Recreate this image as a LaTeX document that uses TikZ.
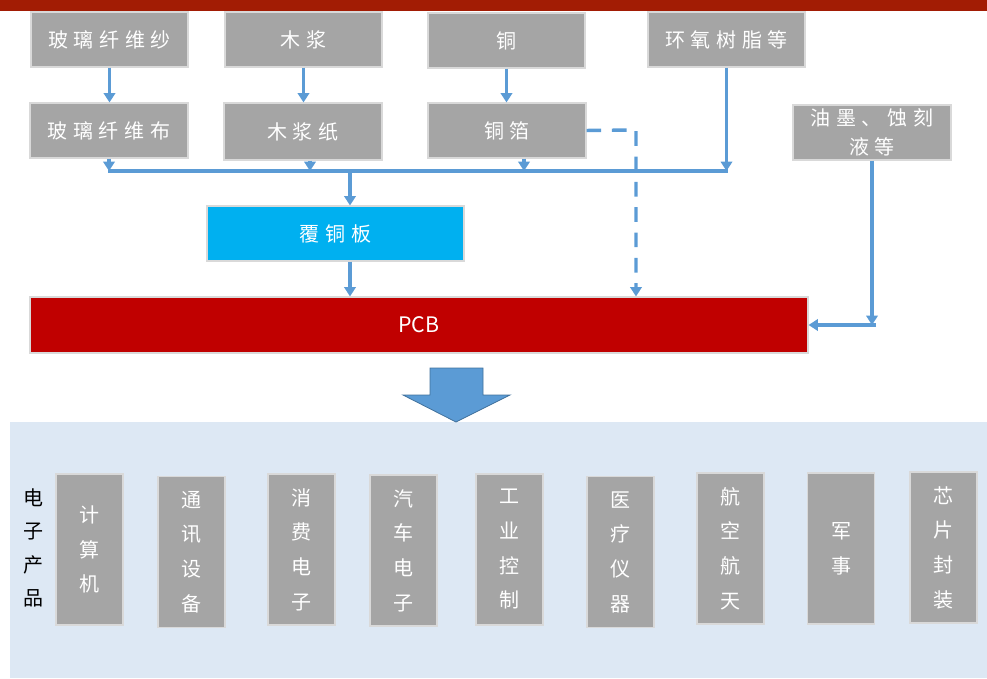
\documentclass[tikz,border=0pt]{standalone}
\usepackage{fontspec}
\setmainfont{Noto Sans CJK SC}
\newfontfamily\cjk[LetterSpace=28]{Noto Sans CJK SC}
\newfontfamily\cjkv{Noto Sans CJK SC}
\usetikzlibrary{arrows.meta,calc}
\definecolor{barred}{HTML}{A21C04}
\definecolor{boxgray}{HTML}{A5A5A5}
\definecolor{boxedge}{HTML}{D9D9D9}
\definecolor{cyanbox}{HTML}{00B0F0}
\definecolor{pcbred}{HTML}{C00000}
\definecolor{arrblue}{HTML}{5B9BD5}
\definecolor{arredge}{HTML}{41719C}
\definecolor{panel}{HTML}{DDE8F4}
\tikzset{
  graybox/.style={draw=boxedge,line width=0.8pt,fill=boxgray,text=white,inner sep=0pt,
    font=\cjk\fontsize{15}{22}\selectfont,align=center},
  hbox/.style={graybox,minimum width=118.5pt,minimum height=41.25pt},
  vbox/.style={graybox,minimum width=50.25pt,minimum height=113.25pt,
    font=\cjkv\fontsize{15}{26}\selectfont},
  link/.style={arrblue,line width=2.6pt},
  arr/.style={link,-{Triangle[width=8.5pt,length=7pt]}},
}
\begin{document}
\begin{tikzpicture}[x=0.75pt,y=-0.75pt]
\useasboundingbox (0,0) rectangle (987,678);
% top bar
\fill[barred] (0,0) rectangle (987,11);
% bottom panel
\fill[panel] (10,422) rectangle (987,678);

% top row
\node[hbox,minimum width=117.75pt] (gys) at (109.5,39.5) {玻璃纤维纱};
\node[hbox,minimum width=117.75pt] (mj) at (303.5,39.5) {木浆};
\node[hbox,minimum width=117.75pt] (tong) at (506.5,40.5) {铜};
\node[hbox,minimum width=117.75pt] (hy) at (726.5,39.5) {环氧树脂等};
% second row
\node[hbox] (gyb) at (109,130.5) {玻璃纤维布};
\node[hbox,minimum height=42.75pt] (mjz) at (303,131.5) {木浆纸};
\node[hbox] (tb) at (507,130.5) {铜箔};
\node[hbox,font=\cjk\fontsize{15}{22}\selectfont] (ym) at (872,132.5) {油墨、蚀刻\\液等};
% CCL and PCB
\node[graybox,fill=cyanbox,minimum width=192.75pt,minimum height=41.25pt] (ftb) at (335.5,233.5) {覆铜板};
\node[graybox,fill=pcbred,minimum width=583.5pt,minimum height=42pt,font=\fontsize{16}{20}\selectfont] (pcb) at (419,325) {PCB};

% connectors
\draw[arr] (gys.south) -- (gys.south |- gyb.north);
\draw[arr] (mj.south) -- (mj.south |- mjz.north);
\draw[arr] (tong.south) -- (tong.south |- tb.north);
\coordinate (busL) at (109,171);
\coordinate (busR) at (726,171);
\coordinate (busM) at (350,171);
\draw[link] ($(busL)+(-1,0)$) -- ($(busR)+(1.5,0)$);
\draw[arr] (gyb.south) -- (gyb.south |- busL);
\draw[arr] ($(mjz.south)+(7,0)$) -- ($(mjz.south |- busL)+(7,0)$);
\draw[arr] ($(tb.south)+(17,0)$) -- ($(tb.south |- busL)+(17,0)$);
\draw[arr] (hy.south) -- (hy.south |- busR);
\draw[arr] (busM) -- (busM |- ftb.north);
\draw[arr] (busM |- ftb.south) -- (busM |- pcb.north);
\coordinate (dc) at (636,130);
\draw[arr,dash pattern=on 11pt off 8pt] (tb.east) -- (dc) -- (dc |- pcb.north);
\coordinate (rc) at (872,325);
\draw[arr] (ym.south) -- (rc);
\draw[arr] ($(rc)+(4,0)$) -- (pcb.east |- rc);

% block arrow
\draw[fill=arrblue,draw=arredge,line width=0.6pt]
  (430,368) -- (483,368) -- (483,395) -- (510,395) -- (456,422) -- (403,395) -- (430,395) -- cycle;

% products
\node[font=\cjkv\fontsize{15}{25}\selectfont,align=center,inner sep=0pt] (dz) at (33,548) {电\\子\\产\\品};
\node[vbox] (jsj) at (89.5,549.5) {计\\算\\机};
\node[vbox] (tx) at (191.5,552) {通\\讯\\设\\备};
\node[vbox] (xf) at (301.5,549.5) {消\\费\\电\\子};
\node[vbox] (qc) at (403.5,550.5) {汽\\车\\电\\子};
\node[vbox] (gy) at (509.5,549.5) {工\\业\\控\\制};
\node[vbox] (yl) at (620.5,552) {医\\疗\\仪\\器};
\node[vbox] (hk) at (730.5,548.5) {航\\空\\航\\天};
\node[vbox] (js) at (841,548.5) {军\\事};
\node[vbox] (xp) at (943.5,547.5) {芯\\片\\封\\装};
\end{tikzpicture}
\end{document}
